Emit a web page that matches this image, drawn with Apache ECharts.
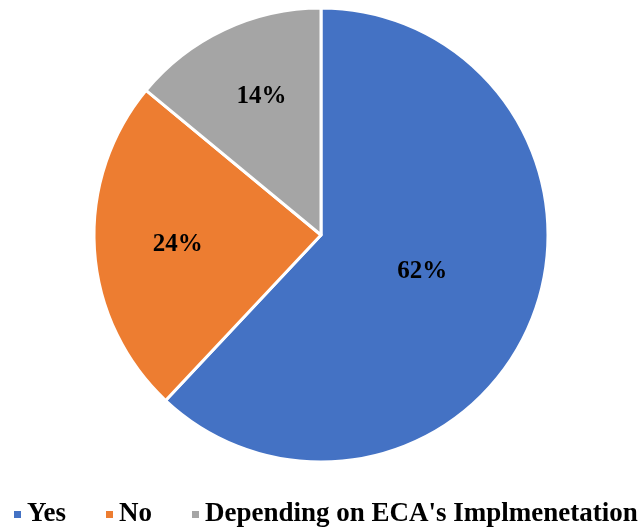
<!DOCTYPE html>
<html><head><meta charset="utf-8">
<script src="https://cdn.jsdelivr.net/npm/echarts@6/dist/echarts.min.js"></script>
<style>html,body{margin:0;padding:0;background:#fff}#c{width:643px;height:531px}</style>
</head><body><div id="c"></div>
<script>
var categories = ["Yes", "No", "Depending on ECA's Implmenetation"];
var values = [62, 24, 14];
var colors = ['#4472C4', '#ED7D31', '#A5A5A5'];
var labelOffsets = [[-7, -6], [-27, 2], [-10, -33]];
var chart = echarts.init(document.getElementById('c'));
var font = '"Liberation Serif", "Times New Roman", serif';
chart.setOption({
  animation: false,
  color: colors,
  legend: {
    top: 501, left: 12, padding: 0,
    icon: 'rect', itemWidth: 9, itemHeight: 9, itemGap: 38,
    textStyle: {fontFamily: font, fontWeight: 'bold', fontSize: 27, color: '#000'},
    data: categories
  },
  series: [{
    type: 'pie',
    center: [321, 235], radius: 227,
    startAngle: 90, clockwise: true,
    itemStyle: {borderColor: '#fff', borderWidth: 3},
    label: {position: 'inside', formatter: '{c}%', fontFamily: font, fontWeight: 'bold', fontSize: 25, color: '#000'},
    labelLine: {show: false},
    data: categories.map(function(n, i){ return {name: n, value: values[i], label: {offset: labelOffsets[i]}}; })
  }]
});
</script></body></html>
